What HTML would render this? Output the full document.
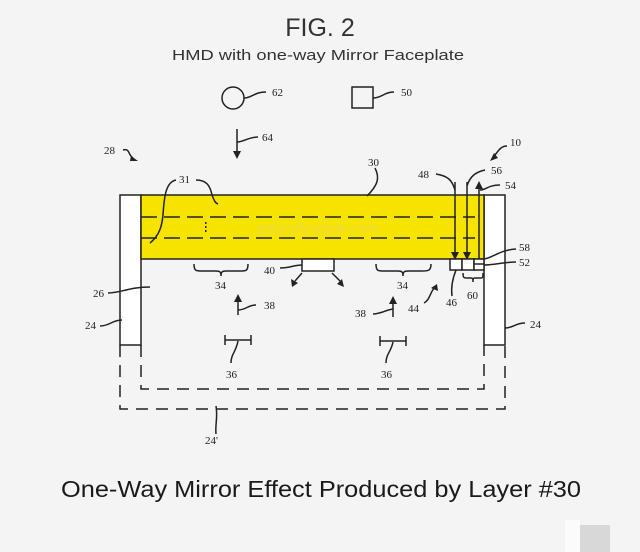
<!DOCTYPE html>
<html><head><meta charset="utf-8"><style>
html,body{margin:0;padding:0;background:#f4f4f4;}
svg{display:block;}
.n{font-family:"Liberation Serif",serif;font-size:11px;fill:#222;}
</style></head><body>
<svg width="640" height="552" viewBox="0 0 640 552" xmlns="http://www.w3.org/2000/svg">
<rect width="640" height="552" fill="#f4f4f4"/>
<text x="320" y="36" text-anchor="middle" font-family="Liberation Sans, sans-serif" font-size="25" fill="#333">FIG. 2</text>
<text x="318" y="60" text-anchor="middle" font-family="Liberation Sans, sans-serif" font-size="15" fill="#333" textLength="292" lengthAdjust="spacingAndGlyphs">HMD with one-way Mirror Faceplate</text>

<g fill="none" stroke="#222" stroke-width="1.5">
<circle cx="233" cy="98" r="11"/>
<path d="M244,98 C252,98 254,92 266,92"/>
<rect x="352" y="87" width="21" height="21"/>
<path d="M373,98 C382,98 384,92 394,92"/>
<path d="M237,129 L237,153"/>
<path d="M237,142 C244,142 248,137 258,137"/>
<path d="M123,150 C130,148 128,155 133,158"/>
<path d="M507,146 C500,146 498,152 494,156"/>
</g>
<path d="M233,151 L237,159 L241,151 Z" fill="#222"/>
<path d="M131,156 L138,161 L130,161 Z" fill="#222"/>
<path d="M494,153 L490,161 L498,158 Z" fill="#222"/>

<rect x="120" y="195" width="21" height="150" fill="#fff" stroke="#222" stroke-width="1.5"/>
<rect x="484" y="195" width="21" height="150" fill="#fff" stroke="#222" stroke-width="1.5"/>
<rect x="141" y="195" width="343" height="64" fill="#f7e300" stroke="#222" stroke-width="1.5"/>
<g stroke="#222" stroke-width="1.5" stroke-dasharray="16,7">
<line x1="141" y1="217" x2="475" y2="217"/>
<line x1="141" y1="238" x2="475" y2="238"/>
</g>
<text x="318" y="233" text-anchor="middle" font-family="Liberation Sans, sans-serif" font-size="15" fill="#ecdc40">patentlyapple.com</text>
<g fill="#222"><rect x="205" y="222" width="1.5" height="2"/><rect x="205" y="226" width="1.5" height="2"/><rect x="205" y="230" width="1.5" height="2"/></g>

<g fill="none" stroke="#222" stroke-width="1.5" stroke-dasharray="12,8">
<path d="M141,345 L141,389 L484,389 L484,345"/>
<path d="M120,345 L120,409 L505,409 L505,345"/>
</g>

<rect x="302" y="259" width="32" height="12" fill="#fff" stroke="#222" stroke-width="1.5"/>
<g fill="none" stroke="#222" stroke-width="1.5">
<path d="M280,268 C290,268 294,265 302,265"/>
<line x1="302" y1="273" x2="295" y2="281"/>
<line x1="332" y1="273" x2="340" y2="281"/>
<rect x="450" y="259" width="12" height="11" fill="#fff"/>
<rect x="462" y="259" width="12" height="11" fill="#fff"/>
<rect x="474" y="259" width="10" height="11" fill="#fff"/>
<line x1="474" y1="264" x2="484" y2="264"/>
<line x1="455" y1="182" x2="455" y2="253"/>
<line x1="467" y1="182" x2="467" y2="253"/>
<line x1="479" y1="259" x2="479" y2="188"/>
<path d="M436,174 C448,176 452,180 455,190"/>
<path d="M485,170 C476,172 470,176 467,186"/>
<path d="M480,190 C486,190 488,185 500,185"/>
<path d="M484,259 C492,258 500,250 516,249"/>
<path d="M484,265 C494,265 504,262 516,262"/>
<path d="M194,264 C194,271 196,271 202,271 L216,271 C220,271 221,272 221,276 C221,272 222,271 226,271 L240,271 C246,271 248,271 248,264"/>
<path d="M376,264 C376,271 378,271 384,271 L398,271 C402,271 403,272 403,276 C403,272 404,271 408,271 L422,271 C428,271 431,271 431,264"/>
<path d="M463,273 C463,278 464,278 467,278 L471,278 C473,278 473,279 473,282 C473,279 473,278 475,278 L480,278 C483,278 483,278 483,273"/>
<path d="M456,270 C452,280 451,288 452,296"/>
<path d="M424,303 C430,300 430,292 435,287"/>
<line x1="238" y1="315" x2="238" y2="300"/>
<line x1="393" y1="317" x2="393" y2="302"/>
<path d="M238,310 C246,310 248,305 256,305"/>
<path d="M373,314 C381,314 385,310 393,309"/>
<path d="M225,335 L225,345 M225,340 L251,340 M251,335 L251,345"/>
<path d="M380,336 L380,346 M380,341 L406,341 M406,336 L406,346"/>
<path d="M238,341 C236,352 231,354 231,363"/>
<path d="M393,342 C391,352 386,354 386,363"/>
<path d="M176,180 C165,182 164,200 163,215 C162,225 160,235 150,243"/>
<path d="M196,180 C206,180 210,185 212,195 C214,200 215,203 218,204"/>
<path d="M375,168 C380,178 378,185 367,196"/>
<path d="M108,293 C120,293 130,287 150,287"/>
<path d="M100,326 C110,326 112,320 122,320"/>
<path d="M525,323 C515,323 514,328 505,328"/>
<path d="M216,434 C215,424 218,418 216,406"/>
</g>
<path d="M451,252 L455,260 L459,252 Z" fill="#222"/>
<path d="M463,252 L467,260 L471,252 Z" fill="#222"/>
<path d="M475,189 L479,181 L483,189 Z" fill="#222"/>
<path d="M234,302 L238,294 L242,302 Z" fill="#222"/>
<path d="M389,304 L393,296 L397,304 Z" fill="#222"/>
<path d="M291,279 L292,287 L298,283 Z" fill="#222"/>
<path d="M344,287 L342,279 L337,284 Z" fill="#222"/>
<path d="M437,284 L431,288 L438,291 Z" fill="#222"/>

<g class="n">
<text x="272" y="96">62</text>
<text x="401" y="96">50</text>
<text x="262" y="141">64</text>
<text x="104" y="154">28</text>
<text x="510" y="146">10</text>
<text x="179" y="183">31</text>
<text x="368" y="166">30</text>
<text x="418" y="178">48</text>
<text x="491" y="174">56</text>
<text x="505" y="189">54</text>
<text x="519" y="251">58</text>
<text x="519" y="266">52</text>
<text x="264" y="274">40</text>
<text x="215" y="289">34</text>
<text x="397" y="289">34</text>
<text x="467" y="299">60</text>
<text x="446" y="306">46</text>
<text x="408" y="312">44</text>
<text x="264" y="309">38</text>
<text x="355" y="317">38</text>
<text x="93" y="297">26</text>
<text x="85" y="329">24</text>
<text x="530" y="328">24</text>
<text x="226" y="378">36</text>
<text x="381" y="378">36</text>
<text x="205" y="444">24'</text>
</g>

<text x="61" y="497" font-family="Liberation Sans, sans-serif" font-size="23" fill="#1a1a1a" textLength="520" lengthAdjust="spacingAndGlyphs">One-Way Mirror Effect Produced by Layer #30</text>
<rect x="578" y="525" width="32" height="27" fill="#d8d8d8"/>
<rect x="565" y="520" width="15" height="32" fill="#fbfbfb"/>
</svg>
</body></html>
